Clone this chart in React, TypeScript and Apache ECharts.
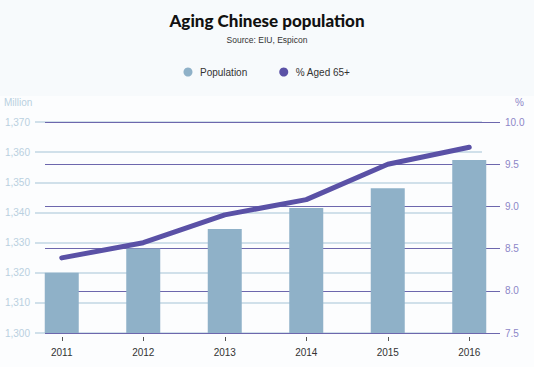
import React, { useEffect, useRef } from "react";
import * as echarts from "echarts";

const years = ["2011", "2012", "2013", "2014", "2015", "2016"];
const population = [1320, 1328, 1334.5, 1341.5, 1348, 1357.4];
const aged65 = [8.39, 8.57, 8.9, 9.08, 9.5, 9.7];
const leftTicks = { min: 1300, max: 1370, interval: 10 };
const rightTicks = { min: 7.5, max: 10, interval: 0.5 };

const FONT = "'Liberation Sans', Arial, sans-serif";

export default function App() {
  const ref = useRef<HTMLDivElement>(null);
  useEffect(() => {
    document.body.style.margin = "0";
    const chart = echarts.init(ref.current!, null, { renderer: "svg" });
    const top = 122;
    const height = 211;
    chart.setOption({
      animation: false,
      backgroundColor: "#fcfdfe",
      textStyle: { fontFamily: FONT },
      title: {
        text: "Aging Chinese population",
        subtext: "Source: EIU, Espicon",
        left: "center",
        top: 7,
        itemGap: 6,
        textStyle: { fontFamily: "Lato, sans-serif", fontWeight: 900, fontSize: 17, color: "#111" },
        subtextStyle: { fontFamily: FONT, fontSize: 8.5, color: "#333" },
      },
      legend: {
        top: 62,
        left: "center",
        itemWidth: 14,
        itemHeight: 9,
        itemGap: 32,
        icon: "circle",
        textStyle: { fontSize: 10, color: "#333", fontFamily: FONT },
        data: ["Population", "% Aged 65+"],
      },
      graphic: [
        { type: "rect", z: -10, shape: { x: 0, y: 0, width: 534, height: 96 }, style: { fill: "#f7fafc" } },
        { type: "text", left: 4, top: 97, style: { text: "Million", fontSize: 10, fill: "#b9d0e0", fontFamily: FONT } },
        { type: "text", left: 515, top: 97, style: { text: "%", fontSize: 10, fill: "#8c86c8", fontFamily: FONT } },
      ],
      grid: [
        { left: 21, width: 489, top, height },
        { left: 35, width: 447, top, height },
        { left: 45, width: 455, top, height },
      ],
      xAxis: [
        {
          type: "category",
          gridIndex: 0,
          data: years,
          offset: 4,
          axisLine: { show: false },
          axisTick: { show: true, alignWithLabel: true, length: 4, lineStyle: { color: "#555" } },
          axisLabel: { fontSize: 10, color: "#333", margin: 10 },
        },
        { type: "value", gridIndex: 1, show: false },
        { type: "value", gridIndex: 2, show: false },
      ],
      yAxis: [
        { type: "value", gridIndex: 0, show: false, ...leftTicks },
        { type: "value", gridIndex: 0, show: false, position: "right", ...rightTicks },
        {
          type: "value",
          gridIndex: 1,
          position: "left",
          ...leftTicks,
          axisLine: { show: false },
          axisTick: { show: false },
          axisLabel: {
            fontSize: 10,
            color: "#b9d0e0",
            margin: 5,
            formatter: (v: number) => v.toLocaleString("en-US"),
          },
          splitLine: { show: true, lineStyle: { color: "#c2d6e3", width: 1.5 } },
        },
        {
          type: "value",
          gridIndex: 2,
          position: "right",
          ...rightTicks,
          axisLine: { show: false },
          axisTick: { show: false },
          axisLabel: {
            fontSize: 10,
            color: "#8c86c8",
            margin: 5,
            formatter: (v: number) => v.toFixed(1),
          },
          splitLine: { show: true, lineStyle: { color: "#6d67ad", width: 1.2 } },
        },
      ],
      series: [
        {
          name: "Population",
          type: "bar",
          xAxisIndex: 0,
          yAxisIndex: 0,
          data: population,
          barWidth: 34,
          itemStyle: { color: "#8fb1c8" },
          z: 3,
        },
        {
          name: "% Aged 65+",
          type: "line",
          xAxisIndex: 0,
          yAxisIndex: 1,
          data: aged65,
          showSymbol: false,
          symbol: "circle",
          itemStyle: { color: "#5a51a6" },
          lineStyle: { color: "#5a51a6", width: 5, cap: "round", join: "round" },
          z: 4,
        },
      ],
    });
    return () => chart.dispose();
  }, []);
  return <div ref={ref} style={{ width: 534, height: 367 }} />;
}
